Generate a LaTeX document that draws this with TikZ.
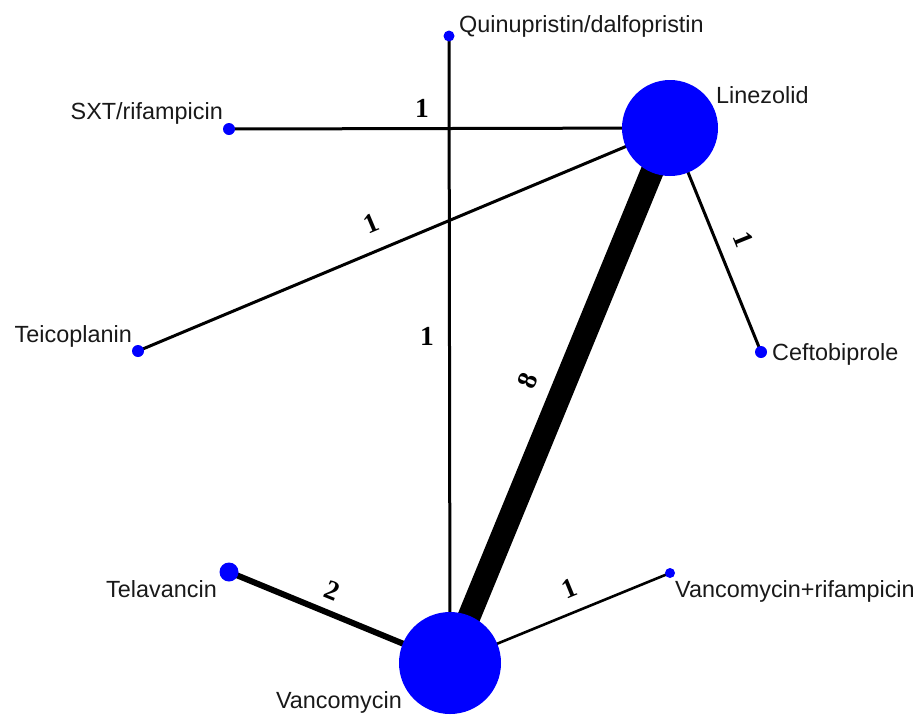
\documentclass[tikz,border=0pt]{standalone}
\usepackage{fontspec}
\setmainfont{Liberation Sans}
\newfontfamily\numfont{Liberation Serif}
\usetikzlibrary{backgrounds}
\begin{document}
\begin{tikzpicture}[x=1pt,y=-1pt,
  dot/.style={circle,fill=blue,draw=none,inner sep=0pt,minimum size=#1},
  lbl/.style={inner sep=0pt,text=black!90,font=\fontsize{23.4}{28}\selectfont},
  num/.style={inner sep=0pt,font=\fontsize{27.5}{30}\selectfont\numfont\bfseries},
  edge/.style={draw=black,line width=#1}]
\useasboundingbox (0,0) rectangle (921,716);
% nodes
\node[dot=11] (quin) at (449,36) {};
\node[dot=12] (sxt) at (229,129) {};
\node[dot=12] (teic) at (138,351) {};
\node[dot=12] (ceft) at (761,352) {};
\node[dot=19] (tela) at (229,572) {};
\node[dot=10] (vrif) at (670,573) {};
\node[dot=96] (lin) at (670,128) {};
\node[dot=102] (van) at (450,663) {};
% edges
\begin{scope}[on background layer]
\draw[edge=3] (quin.center) -- (van.center);
\draw[edge=3] (sxt.center) -- (lin.center);
\draw[edge=3] (teic.center) -- (lin.center);
\draw[edge=3] (lin.center) -- (ceft.center);
\draw[edge=23] (van.center) -- (lin.center);
\draw[edge=6] (tela.center) -- (van.center);
\draw[edge=2.6] (van.center) -- (vrif.center);
\end{scope}
% labels
\node[lbl,anchor=base west] (quinL) at (459,32) {Quinupristin/dalfopristin};
\node[lbl,anchor=base west] (linL) at (716,103) {Linezolid};
\node[lbl,anchor=base east] (sxtL) at (223,119) {SXT/rifampicin};
\node[lbl,anchor=base east] (teicL) at (132,342) {Teicoplanin};
\node[lbl,anchor=base west] (ceftL) at (772,360) {Ceftobiprole};
\node[lbl,anchor=base east] (telaL) at (217,597) {Telavancin};
\node[lbl,anchor=base west] (vrifL) at (675,597) {Vancomycin+rifampicin};
\node[lbl,anchor=base east] (vanL) at (402,708) {Vancomycin};
% edge numbers
\node[num] (n1) at (422,108) {1};
\node[num] (n2) at (427,336) {1};
\node[num,rotate=22.9] (n3) at (371,223) {1};
\node[num,rotate=-67.9] (n4) at (743,239) {1};
\node[num,rotate=67.7] (n5) at (528,381) {8};
\node[num,rotate=-22.2] (n6) at (332,591) {2};
\node[num,rotate=22.3] (n7) at (569,588) {1};
\end{tikzpicture}
\end{document}
